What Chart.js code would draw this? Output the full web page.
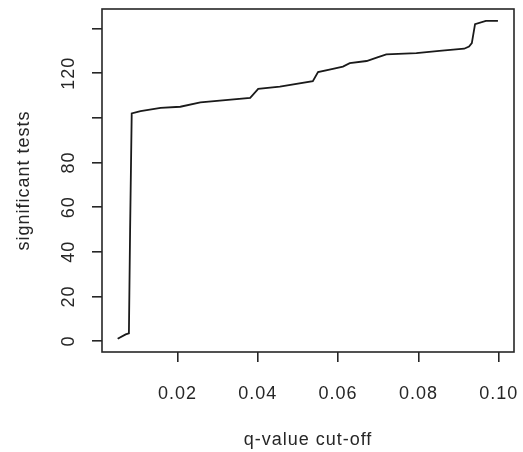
<!DOCTYPE html>
<html>
<head>
<meta charset="utf-8">
<script src="https://cdn.jsdelivr.net/npm/chart.js@4/dist/chart.umd.min.js"></script>
<style>
  html, body { margin: 0; padding: 0; background: #fff; }
  #wrap { width: 523px; height: 452px; }
</style>
</head>
<body>
<div id="wrap"><canvas id="chart-qvalue"></canvas></div>
<script>
// q-value cut-off vs number of significant tests
const qCutoff = [0.0051, 0.0071, 0.0079, 0.0082, 0.0086, 0.0108, 0.0158, 0.0207, 0.0257,
  0.0381, 0.0401, 0.0455, 0.0537, 0.0550, 0.0587, 0.0612, 0.0629, 0.0671, 0.0696,
  0.0720, 0.0795, 0.0852, 0.0914, 0.0926, 0.0933, 0.0941, 0.0968, 0.0998];
const sigTests = [1, 3, 3.5, 50, 102, 103, 104.5, 105, 107,
  109, 113, 114, 116.5, 120.5, 122, 123, 124.5, 125.5, 127,
  128.5, 129, 130, 131, 132, 133.5, 142, 143.5, 143.5];

const xTicks = [0.02, 0.04, 0.06, 0.08, 0.10];
const yTicks = [0, 20, 40, 60, 80, 100, 120, 140];
const yHidden = [100, 140]; // R drops these labels (overlap)

const ink = "#262626";
const font = { family: "'Liberation Sans', Arial, sans-serif", size: 18 };

// fixed axis boxes so the plot region sits where R put it
function fixBox(size, key) {
  return (s) => {
    s[key] = size;
    s.paddingLeft = s.paddingRight = s.paddingTop = s.paddingBottom = 0;
  };
}

// R-style box + a bit of letter spacing like the original png text
const rBox = {
  id: "rBox",
  beforeUpdate(chart) { chart.ctx.letterSpacing = "1px"; },
  beforeDraw(chart) { chart.ctx.letterSpacing = "1px"; },
  afterDraw(chart) {
    const { ctx, chartArea: a } = chart;
    ctx.save();
    ctx.strokeStyle = ink;
    ctx.lineWidth = 1.6;
    ctx.strokeRect(a.left, a.top, a.right - a.left, a.bottom - a.top);
    ctx.restore();
  },
};

new Chart(document.getElementById("chart-qvalue"), {
  type: "line",
  data: {
    datasets: [{
      data: qCutoff.map((q, i) => ({ x: q, y: sigTests[i] })),
      borderColor: "#1a1a1a",
      borderWidth: 1.8,
      pointRadius: 0,
      tension: 0,
      fill: false,
    }],
  },
  options: {
    responsive: true,
    maintainAspectRatio: false,
    animation: false,
    layout: { padding: { top: 9, right: 9, left: 0, bottom: 0 } },
    scales: {
      x: {
        type: "linear",
        min: 0.0012,
        max: 0.1038,
        afterFit: fixBox(100, "height"),
        afterBuildTicks: (s) => { s.ticks = xTicks.map((v) => ({ value: v })); },
        border: { display: false },
        grid: { drawOnChartArea: false, tickLength: 10, color: ink, lineWidth: 1.6 },
        ticks: {
          color: ink, font, padding: 21, maxRotation: 0, autoSkip: false,
          callback: (v) => v.toFixed(2),
        },
        title: {
          display: true, text: "q-value cut-off", color: ink, font,
          padding: { top: 0, bottom: 1 },
        },
      },
      y: {
        min: -4.9,
        max: 148.8,
        afterFit: fixBox(102, "width"),
        afterBuildTicks: (s) => { s.ticks = yTicks.map((v) => ({ value: v })); },
        border: { display: false },
        grid: { drawOnChartArea: false, tickLength: 10, color: ink, lineWidth: 1.6 },
        ticks: {
          color: ink, font, padding: 6, minRotation: 90, maxRotation: 90,
          crossAlign: "center", autoSkip: false,
          callback: (v) => (yHidden.includes(v) ? "" : String(v)),
        },
        title: {
          display: true, text: "significant tests", color: ink, font,
          padding: { top: 13, bottom: 0 },
        },
      },
    },
    plugins: {
      legend: { display: false },
      tooltip: { enabled: false },
    },
  },
  plugins: [rBox],
});
</script>
</body>
</html>
